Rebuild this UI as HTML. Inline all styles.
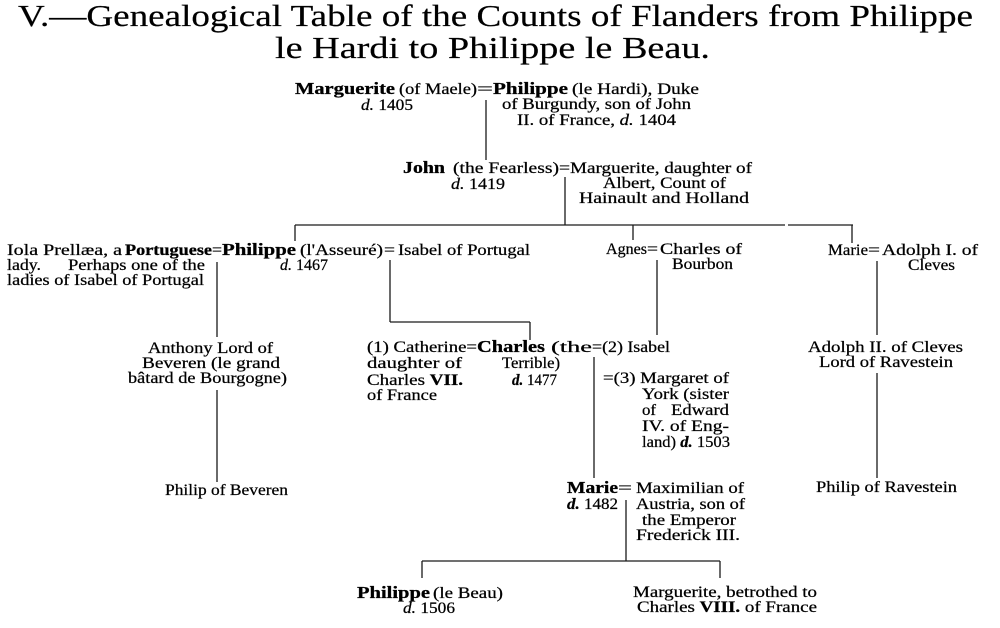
<!DOCTYPE html>
<html>
<head>
<meta charset="utf-8">
<style>
  html, body { margin: 0; padding: 0; background: #fff; }
  body { width: 1000px; height: 628px; overflow: hidden; }
  svg { display: block; }
  text { font-family: "Liberation Serif", "DejaVu Serif", serif; fill: #000; stroke: #000; stroke-width: 0.25; font-size: 16px; }
  .t { font-size: 31px; stroke-width: 0.2; }
  .b { font-weight: bold; font-size: 17px; stroke-width: 0.3; }
  .i { font-style: italic; }
  line { stroke: #1a1a1a; stroke-width: 1.3; }
</style>
</head>
<body>
<svg width="1000" height="628" viewBox="0 0 1000 628" xmlns="http://www.w3.org/2000/svg">
  <!-- Title -->
  <text class="t" x="18" y="26" textLength="955" lengthAdjust="spacingAndGlyphs">V.—Genealogical Table of the Counts of Flanders from Philippe</text>
  <text class="t" x="275" y="58" textLength="435" lengthAdjust="spacingAndGlyphs">le Hardi to Philippe le Beau.</text>

  <!-- Row 1 -->
  <text class="b" x="295" y="94" textLength="100" lengthAdjust="spacingAndGlyphs">Marguerite</text>
  <text x="399" y="94" textLength="78" lengthAdjust="spacingAndGlyphs">(of Maele)</text>
  <text x="477" y="94" textLength="16" lengthAdjust="spacingAndGlyphs">=</text>
  <text class="b" x="493" y="94" textLength="75" lengthAdjust="spacingAndGlyphs">Philippe</text>
  <text x="572" y="94" textLength="127" lengthAdjust="spacingAndGlyphs">(le Hardi), Duke</text>
  <text x="361" y="110" textLength="52" lengthAdjust="spacingAndGlyphs"><tspan class="i">d.</tspan> 1405</text>
  <text x="502" y="109" textLength="189" lengthAdjust="spacingAndGlyphs">of Burgundy, son of John</text>
  <text x="517" y="125" textLength="159" lengthAdjust="spacingAndGlyphs">II. of France, <tspan class="i">d.</tspan> 1404</text>

  <line x1="486" y1="100" x2="486" y2="160"/>

  <!-- Row 2 -->
  <text class="b" x="403" y="173" textLength="42" lengthAdjust="spacingAndGlyphs">John</text>
  <text x="453" y="173" textLength="117" lengthAdjust="spacingAndGlyphs">(the Fearless)=</text>
  <text x="570" y="173" textLength="182" lengthAdjust="spacingAndGlyphs">Marguerite, daughter of</text>
  <text x="451" y="189" textLength="54" lengthAdjust="spacingAndGlyphs"><tspan class="i">d.</tspan> 1419</text>
  <text x="603" y="188" textLength="123" lengthAdjust="spacingAndGlyphs">Albert, Count of</text>
  <text x="579" y="203" textLength="170" lengthAdjust="spacingAndGlyphs">Hainault and Holland</text>

  <line x1="565" y1="177" x2="565" y2="225"/>
  <line x1="295" y1="225" x2="785" y2="225"/>
  <line x1="788" y1="225" x2="853" y2="225"/>
  <line x1="295" y1="225" x2="295" y2="241"/>
  <line x1="633" y1="225" x2="633" y2="240"/>
  <line x1="852" y1="225" x2="852" y2="243"/>

  <!-- Row 3 -->
  <text x="7" y="255" textLength="115" lengthAdjust="spacingAndGlyphs">Iola Prellæa, a</text>
  <text class="b" x="125" y="255" textLength="87" lengthAdjust="spacingAndGlyphs" style="font-size:16px">Portuguese</text>
  <text x="212" y="255" textLength="10" lengthAdjust="spacingAndGlyphs">=</text>
  <text class="b" x="222" y="255" textLength="74" lengthAdjust="spacingAndGlyphs">Philippe</text>
  <text x="300" y="255" textLength="83" lengthAdjust="spacingAndGlyphs">(l'Asseuré)</text>
  <text x="384" y="255" textLength="11" lengthAdjust="spacingAndGlyphs">=</text>
  <text x="398" y="255" textLength="132" lengthAdjust="spacingAndGlyphs">Isabel of Portugal</text>
  <text x="7" y="270" textLength="34" lengthAdjust="spacingAndGlyphs">lady.</text>
  <text x="68" y="270" textLength="137" lengthAdjust="spacingAndGlyphs">Perhaps one of the</text>
  <text x="7" y="285" textLength="197" lengthAdjust="spacingAndGlyphs">ladies of Isabel of Portugal</text>
  <text x="280" y="270" textLength="48" lengthAdjust="spacingAndGlyphs"><tspan class="i">d.</tspan> 1467</text>

  <text x="606" y="254" textLength="41" lengthAdjust="spacingAndGlyphs">Agnes</text>
  <text x="647" y="254" textLength="11" lengthAdjust="spacingAndGlyphs">=</text>
  <text x="660" y="254" textLength="82" lengthAdjust="spacingAndGlyphs">Charles of</text>
  <text x="672" y="269" textLength="61" lengthAdjust="spacingAndGlyphs">Bourbon</text>

  <text x="828" y="255" textLength="40" lengthAdjust="spacingAndGlyphs">Marie</text>
  <text x="868" y="255" textLength="12" lengthAdjust="spacingAndGlyphs">=</text>
  <text x="882" y="255" textLength="96" lengthAdjust="spacingAndGlyphs">Adolph I. of</text>
  <text x="908" y="270" textLength="47" lengthAdjust="spacingAndGlyphs">Cleves</text>

  <!-- connectors row 3 -> 4 -->
  <line x1="217" y1="262" x2="217" y2="337"/>
  <line x1="390" y1="260" x2="390" y2="322"/>
  <line x1="390" y1="322" x2="530" y2="322"/>
  <line x1="530" y1="322" x2="530" y2="340"/>
  <line x1="657" y1="260" x2="657" y2="335"/>
  <line x1="877" y1="261" x2="877" y2="335"/>

  <!-- Row 4 -->
  <text x="148" y="353" textLength="125" lengthAdjust="spacingAndGlyphs">Anthony Lord of</text>
  <text x="142" y="368" textLength="138" lengthAdjust="spacingAndGlyphs">Beveren (le grand</text>
  <text x="128" y="383" textLength="159" lengthAdjust="spacingAndGlyphs">bâtard de Bourgogne)</text>

  <text x="367" y="352" textLength="110" lengthAdjust="spacingAndGlyphs">(1) Catherine=</text>
  <text class="b" x="477" y="352" textLength="68" lengthAdjust="spacingAndGlyphs">Charles</text>
  <text x="551" y="352" textLength="41" lengthAdjust="spacingAndGlyphs">(the</text>
  <text x="592" y="352" textLength="78" lengthAdjust="spacingAndGlyphs">=(2) Isabel</text>
  <text x="367" y="368" textLength="95" lengthAdjust="spacingAndGlyphs">daughter of</text>
  <text x="367" y="385" textLength="96" lengthAdjust="spacingAndGlyphs">Charles <tspan font-weight="bold">VII.</tspan></text>
  <text x="367" y="400" textLength="70" lengthAdjust="spacingAndGlyphs">of France</text>
  <text x="502" y="368" textLength="58" lengthAdjust="spacingAndGlyphs">Terrible)</text>
  <text x="512" y="385" textLength="45" lengthAdjust="spacingAndGlyphs"><tspan class="i" font-weight="bold">d.</tspan> 1477</text>

  <text x="603" y="383" textLength="126" lengthAdjust="spacingAndGlyphs">=(3) Margaret of</text>
  <text x="642" y="399" textLength="87" lengthAdjust="spacingAndGlyphs">York (sister</text>
  <text x="642" y="415" textLength="14" lengthAdjust="spacingAndGlyphs">of</text>
  <text x="671" y="415" textLength="58" lengthAdjust="spacingAndGlyphs">Edward</text>
  <text x="642" y="431" textLength="87" lengthAdjust="spacingAndGlyphs">IV. of Eng-</text>
  <text x="642" y="447" textLength="88" lengthAdjust="spacingAndGlyphs">land) <tspan class="i" font-weight="bold">d.</tspan> 1503</text>

  <text x="808" y="352" textLength="155" lengthAdjust="spacingAndGlyphs">Adolph II. of Cleves</text>
  <text x="819" y="367" textLength="134" lengthAdjust="spacingAndGlyphs">Lord of Ravestein</text>

  <!-- connectors row 4 -> 5 -->
  <line x1="217" y1="390" x2="217" y2="482"/>
  <line x1="594" y1="357" x2="594" y2="478"/>
  <line x1="877" y1="373" x2="877" y2="478"/>

  <!-- Row 5 -->
  <text x="165" y="495" textLength="123" lengthAdjust="spacingAndGlyphs">Philip of Beveren</text>
  <text class="b" x="567" y="493" textLength="51" lengthAdjust="spacingAndGlyphs">Marie</text>
  <text x="618" y="493" textLength="14" lengthAdjust="spacingAndGlyphs">=</text>
  <text x="636" y="493" textLength="108" lengthAdjust="spacingAndGlyphs">Maximilian of</text>
  <text x="567" y="509" textLength="51" lengthAdjust="spacingAndGlyphs"><tspan class="i" font-weight="bold">d.</tspan> 1482</text>
  <text x="636" y="509" textLength="109" lengthAdjust="spacingAndGlyphs">Austria, son of</text>
  <text x="642" y="525" textLength="94" lengthAdjust="spacingAndGlyphs">the Emperor</text>
  <text x="636" y="540" textLength="104" lengthAdjust="spacingAndGlyphs">Frederick III.</text>
  <text x="816" y="492" textLength="141" lengthAdjust="spacingAndGlyphs">Philip of Ravestein</text>

  <line x1="626" y1="500" x2="626" y2="561"/>
  <line x1="422" y1="561" x2="720" y2="561"/>
  <line x1="422" y1="561" x2="422" y2="578"/>
  <line x1="720" y1="561" x2="720" y2="578"/>

  <!-- Row 6 -->
  <text class="b" x="357" y="598" textLength="73" lengthAdjust="spacingAndGlyphs">Philippe</text>
  <text x="433" y="598" textLength="70" lengthAdjust="spacingAndGlyphs">(le Beau)</text>
  <text x="403" y="613" textLength="52" lengthAdjust="spacingAndGlyphs"><tspan class="i">d.</tspan> 1506</text>
  <text x="633" y="597" textLength="184" lengthAdjust="spacingAndGlyphs">Marguerite, betrothed to</text>
  <text x="637" y="612" textLength="180" lengthAdjust="spacingAndGlyphs">Charles <tspan font-weight="bold">VIII.</tspan> of France</text>
</svg>
</body>
</html>
